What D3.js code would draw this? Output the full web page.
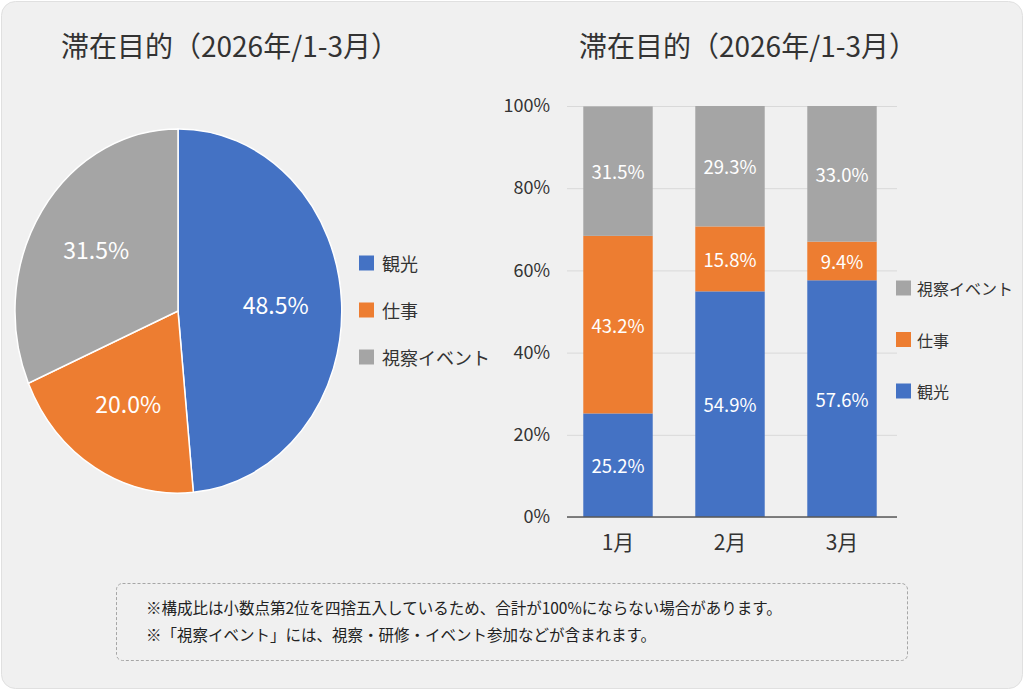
<!DOCTYPE html>
<html>
<head>
<meta charset="utf-8">
<script src="https://cdn.jsdelivr.net/npm/d3@7"></script>
<style>
  html, body { margin: 0; padding: 0; background: #ffffff; }
  svg { display: block; font-family: "Noto Sans CJK JP", "Noto Sans", sans-serif; }
</style>
</head>
<body>
<svg id="chart" width="1024" height="690"></svg>
<script>
// data
var pieCats = ["観光", "仕事", "視察イベント"]
var pieValues = [48.5, 20.0, 31.5]
var months = ["1月", "2月", "3月"]
var kanko = [25.2, 54.9, 57.6]
var shigoto = [43.2, 15.8, 9.4]
var shisatsu = [31.5, 29.3, 33.0]
var yTicks = [0, 20, 40, 60, 80, 100]
var notes = [
  "※構成比は小数点第2位を四捨五入しているため、合計が100%にならない場合があります。",
  "※「視察イベント」には、視察・研修・イベント参加などが含まれます。"
]
var title = "滞在目的（2026年/1-3月）"

var colors = {"観光": "#4472c4", "仕事": "#ed7d31", "視察イベント": "#a5a5a5"}
var textColor = "#333333"

var svg = d3.select("#chart")

// card background
svg.append("rect")
  .attr("x", 1.5).attr("y", 1.5).attr("width", 1021).attr("height", 687)
  .attr("rx", 14)
  .attr("fill", "#f0f0f0").attr("stroke", "#e0e0e0")

// titles
svg.append("text").attr("x", 61).attr("y", 45)
  .attr("dominant-baseline", "central")
  .attr("font-size", 28).attr("fill", textColor).text(title)
svg.append("text").attr("x", 579).attr("y", 45)
  .attr("dominant-baseline", "central")
  .attr("font-size", 28).attr("fill", textColor).text(title)

// ---------- pie (slightly tall ellipse, as in the picture) ----------
var pcx = 178, pcy = 311, rx = 163, ry = 182
var pie = d3.pie().sort(null).value(function(d){return d})
var arcs = pie(pieValues)
var unitArc = d3.arc().innerRadius(0).outerRadius(1)
var labelArc = d3.arc().innerRadius(0.6).outerRadius(0.6)

var pg = svg.append("g")
pg.append("g")
  .attr("transform", "translate(" + pcx + "," + pcy + ") scale(" + rx + "," + ry + ")")
  .selectAll("path").data(arcs).enter().append("path")
  .attr("d", unitArc)
  .attr("fill", function(d, i){return colors[pieCats[i]]})
  .attr("stroke", "#ffffff")
  .attr("stroke-width", 1.5)
  .attr("vector-effect", "non-scaling-stroke")

pg.selectAll("text.plabel").data(arcs).enter().append("text")
  .attr("class", "plabel")
  .attr("x", function(d){return pcx + labelArc.centroid(d)[0] * rx})
  .attr("y", function(d){return pcy + labelArc.centroid(d)[1] * ry - 2})
  .attr("text-anchor", "middle")
  .attr("dominant-baseline", "central")
  .attr("font-size", 23)
  .attr("fill", "#ffffff")
  .text(function(d){return d.data.toFixed(1) + "%"})

// pie legend
var pl = svg.append("g").attr("transform", "translate(359,0)")
var plY = d3.scalePoint().domain(pieCats).range([263, 357])
pl.selectAll("rect").data(pieCats).enter().append("rect")
  .attr("x", 0).attr("y", function(d){return plY(d) - 7.5})
  .attr("width", 15).attr("height", 15)
  .attr("fill", function(d){return colors[d]})
pl.selectAll("text").data(pieCats).enter().append("text")
  .attr("x", 23).attr("y", function(d){return plY(d)})
  .attr("dominant-baseline", "central")
  .attr("font-size", 18).attr("fill", textColor)
  .text(function(d){return d})

// ---------- stacked bars ----------
var table = months.map(function(m, i){
  return {month: m, "観光": kanko[i], "仕事": shigoto[i], "視察イベント": shisatsu[i]}
})
var stack = d3.stack().keys(pieCats)
var series = stack(table)

var x = d3.scaleBand().domain(months).range([562, 898]).paddingInner(0.38).paddingOuter(0.19)
var y = d3.scaleLinear().domain([0, 100]).range([517, 106])

var bg = svg.append("g")

// gridlines + y labels
var yAxis = d3.axisLeft(y).tickValues(yTicks)
  .tickSize(-330).tickPadding(17)
  .tickFormat(function(d){return d + "%"})
var ya = bg.append("g").attr("transform", "translate(567,0)").call(yAxis)
ya.select(".domain").remove()
ya.selectAll(".tick line").attr("stroke", "#d9d9d9").attr("stroke-width", 1)
ya.selectAll(".tick text").attr("font-size", 18).attr("fill", textColor)
  .attr("font-family", "\"Noto Sans CJK JP\", sans-serif")

bg.selectAll("g.layer").data(series).enter().append("g")
  .attr("class", "layer")
  .attr("fill", function(s){return colors[s.key]})
  .selectAll("rect").data(function(s){return s}).enter().append("rect")
  .attr("x", function(d){return x(d.data.month)})
  .attr("y", function(d){return y(d[1])})
  .attr("width", x.bandwidth())
  .attr("height", function(d){return y(d[0]) - y(d[1])})

// segment labels
series.forEach(function(s){
  bg.selectAll(null).data(s).enter().append("text")
    .attr("x", function(d){return x(d.data.month) + x.bandwidth() / 2})
    .attr("y", function(d){return (y(d[0]) + y(d[1])) / 2})
    .attr("text-anchor", "middle")
    .attr("dominant-baseline", "central")
    .attr("font-size", 18.5)
    .attr("fill", "#ffffff")
    .text(function(d){return d.data[s.key].toFixed(1) + "%"})
})

// x axis
var xAxis = d3.axisBottom(x).tickSize(0).tickPadding(18)
var xa = bg.append("g").attr("transform", "translate(0,517)").call(xAxis)
xa.select(".domain").remove()
xa.selectAll(".tick text").attr("font-size", 21).attr("fill", textColor)
  .attr("font-family", "\"Noto Sans CJK JP\", sans-serif")
bg.append("line")
  .attr("x1", 567).attr("x2", 897).attr("y1", y(0)).attr("y2", y(0))
  .attr("stroke", "#595959").attr("stroke-width", 1.5)

// bar legend (reversed order)
var barLegend = pieCats.slice().reverse()
var bl = svg.append("g").attr("transform", "translate(896,0)")
var blY = d3.scalePoint().domain(barLegend).range([288, 391])
bl.selectAll("rect").data(barLegend).enter().append("rect")
  .attr("x", 0).attr("y", function(d){return blY(d) - 7.5})
  .attr("width", 15).attr("height", 15)
  .attr("fill", function(d){return colors[d]})
bl.selectAll("text").data(barLegend).enter().append("text")
  .attr("x", 21).attr("y", function(d){return blY(d)})
  .attr("dominant-baseline", "central")
  .attr("font-size", 16).attr("fill", textColor)
  .text(function(d){return d})

// ---------- footnote box ----------
svg.append("rect")
  .attr("x", 116.5).attr("y", 583.5).attr("width", 791).attr("height", 77)
  .attr("rx", 6)
  .attr("fill", "none").attr("stroke", "#a6a6a6")
  .attr("stroke-dasharray", "3,2")
svg.selectAll("text.note").data(notes).enter().append("text")
  .attr("class", "note")
  .attr("x", 146)
  .attr("y", function(d, i){return 607 + i * 27})
  .attr("dominant-baseline", "central")
  .attr("font-size", 15.5).attr("fill", "#222222")
  .text(function(d){return d})
</script>
</body>
</html>
